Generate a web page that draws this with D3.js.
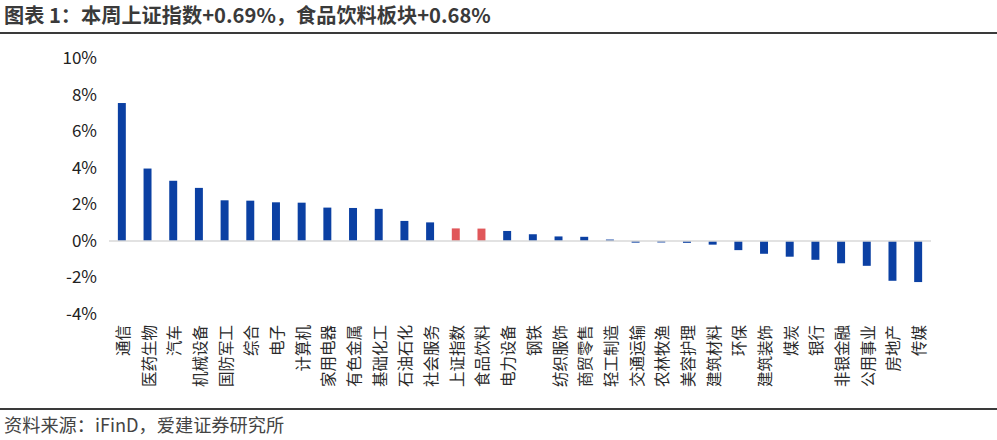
<!DOCTYPE html>
<html><head><meta charset="utf-8">
<script src="https://cdn.jsdelivr.net/npm/d3@7/dist/d3.min.js"></script>
<style>body{margin:0;background:#fff;}svg{display:block;}</style>
</head><body>
<svg id="c" width="997" height="440"></svg>
<script>
const categories = ["通信","医药生物","汽车","机械设备","国防军工","综合","电子","计算机","家用电器","有色金属","基础化工","石油石化","社会服务","上证指数","食品饮料","电力设备","钢铁","纺织服饰","商贸零售","轻工制造","交通运输","农林牧渔","美容护理","建筑材料","环保","建筑装饰","煤炭","银行","非银金融","公用事业","房地产","传媒"];
const values = [7.56,3.97,3.30,2.91,2.23,2.21,2.12,2.10,1.83,1.81,1.76,1.10,1.02,0.69,0.68,0.55,0.37,0.25,0.23,0.08,-0.09,-0.08,-0.10,-0.20,-0.50,-0.70,-0.86,-1.03,-1.22,-1.36,-2.18,-2.25];
const highlighted = ["上证指数","食品饮料"];
const yTicks = [-4,-2,0,2,4,6,8,10];
const titleText = "图表 1：本周上证指数+0.69%，食品饮料板块+0.68%";
const sourceText = "资料来源：iFinD，爱建证券研究所";

const svg = d3.select("#c");
const font = "'Microsoft YaHei','Noto Sans CJK SC','Noto Sans',sans-serif";

const x = d3.scaleBand().domain(categories).range([109, 931]).paddingInner(0.69).paddingOuter(0.345);
const y = d3.scaleLinear().domain([-4, 10]).range([314, 58.5]);

// title
svg.append("text").attr("x", 4).attr("y", 23).attr("font-family", font).attr("font-size", 20.2)
  .attr("font-weight", "bold").attr("fill", "#3a3a3a").text(titleText);
svg.append("line").attr("x1", 0).attr("x2", 997).attr("y1", 33).attr("y2", 33)
  .attr("stroke", "#3a3a3a").attr("stroke-width", 2);

// y axis labels
const yAxis = d3.axisLeft(y).tickValues(yTicks).tickFormat(d => d + "%").tickSize(0).tickPadding(0);
const ya = svg.append("g").attr("transform", "translate(97,0)").call(yAxis);
ya.select(".domain").remove();
ya.selectAll("text").attr("font-family", font).attr("font-size", 17).attr("fill", "#222");

// bars
svg.append("g").selectAll("rect").data(categories).join("rect")
  .attr("x", d => x(d))
  .attr("width", x.bandwidth())
  .attr("y", (d, i) => y(Math.max(0, values[i])))
  .attr("height", (d, i) => Math.abs(y(values[i]) - y(0)))
  .attr("fill", d => highlighted.includes(d) ? "#E0575A" : "#0B40A3");

// zero line
svg.append("line").attr("x1", 109).attr("x2", 931).attr("y1", y(0)).attr("y2", y(0))
  .attr("stroke", "#d9d9d9").attr("stroke-width", 1.5);

// x labels rotated -90
svg.append("g").selectAll("text").data(categories).join("text")
  .attr("font-family", font).attr("font-size", 15.5).attr("fill", "#2a2a2a")
  .attr("text-anchor", "end").attr("dominant-baseline", "central")
  .attr("transform", d => `translate(${x(d) + x.bandwidth() / 2},325) rotate(-90)`)
  .text(d => d);

// bottom line & source
svg.append("line").attr("x1", 0).attr("x2", 997).attr("y1", 409).attr("y2", 409)
  .attr("stroke", "#3a3a3a").attr("stroke-width", 2);
svg.append("text").attr("x", 4).attr("y", 432).attr("font-family", font).attr("font-size", 18.2)
  .attr("fill", "#444").text(sourceText);
</script>
</body></html>
